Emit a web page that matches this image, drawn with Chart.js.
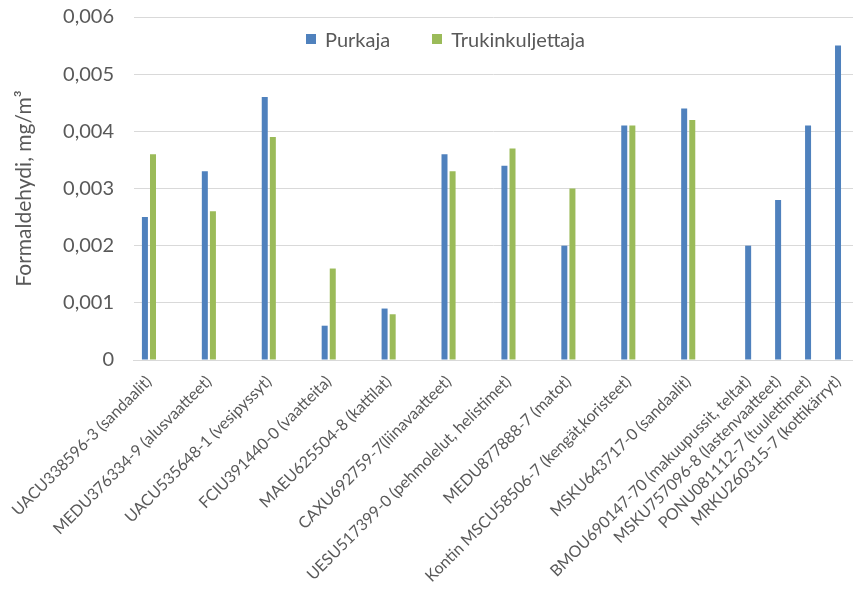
<!DOCTYPE html>
<html>
<head>
<meta charset="utf-8">
<script src="https://cdn.jsdelivr.net/npm/chart.js@4/dist/chart.umd.min.js"></script>
<style>
  body { margin: 0; background: #fff; }
  #wrap { position: relative; width: 853px; height: 590px; }
  #legend { position: absolute; top: 27px; left: 306px; display: flex; font-family: Lato, sans-serif; font-size: 20px; color: #595959; }
  #legend span.item { display: flex; align-items: center; margin-right: 42px; }
  #legend span.box { width: 10px; height: 10px; margin-right: 9px; display: inline-block; }
</style>
</head>
<body>
<div id="wrap">
  <canvas id="formChart"></canvas>
  <div id="legend"></div>
</div>
<script>
// containers measured
var containers = [
  'UACU338596-3 (sandaalit)',
  'MEDU376334-9 (alusvaatteet)',
  'UACU535648-1 (vesipyssyt)',
  'FCIU391440-0 (vaatteita)',
  'MAEU625504-8 (kattilat)',
  'CAXU692759-7(liinavaatteet)',
  'UESU517399-0 (pehmolelut, helistimet)',
  'MEDU877888-7 (matot)',
  'Kontin MSCU58506-7 (kengät,koristeet)',
  'MSKU643717-0 (sandaalit)',
  'BMOU690147-70 (makuupussit, teltat)',
  'MSKU757096-8 (lastenvaatteet)',
  'PONU081112-7 (tuulettimet)',
  'MRKU260315-7 (kottikärryt)'
];
var purkaja = [0.0025, 0.0033, 0.0046, 0.0006, 0.0009, 0.0036, 0.0034, 0.0020, 0.0041, 0.0044, 0.0020, 0.0028, 0.0041, 0.0055];
var trukki  = [0.0036, 0.0026, 0.0039, 0.0016, 0.0008, 0.0033, 0.0037, 0.0030, 0.0041, 0.0042, null, null, null, null];
var yTicks = [0, 0.001, 0.002, 0.003, 0.004, 0.005, 0.006];

var seriesNames = ['Purkaja', 'Trukinkuljettaja'];
var seriesColors = ['#4F81BD', '#9BBB59'];

// containers with both measurements get an empty slot after them
var labels = [], dataP = [], dataT = [];
for (var i = 0; i < containers.length; i++) {
  labels.push(containers[i]);
  dataP.push(purkaja[i]);
  dataT.push(trukki[i]);
  if (trukki[i] != null) {
    labels.push('');
    dataP.push(null);
    dataT.push(null);
  }
}

var legendEl = document.getElementById('legend');
for (var s = 0; s < seriesNames.length; s++) {
  legendEl.innerHTML += '<span class="item"><span class="box" style="background:' + seriesColors[s] + '"></span>' + seriesNames[s] + '</span>';
}

var ctx = document.getElementById('formChart').getContext('2d');
var chart = new Chart(ctx, {
  type: 'bar',
  data: {
    labels: labels,
    datasets: [{
      label: seriesNames[0],
      data: dataP,
      backgroundColor: seriesColors[0]
    }, {
      label: seriesNames[1],
      data: dataT,
      backgroundColor: seriesColors[1]
    }]
  },
  options: {
    responsive: true,
    maintainAspectRatio: false,
    animation: false,
    skipNull: true,
    categoryPercentage: 0.54,
    barPercentage: 0.75,
    maxBarThickness: 6,
    layout: { padding: 0 },
    plugins: {
      legend: { display: false },
      tooltip: { enabled: false }
    },
    scales: {
      x: {
        grid: { display: false, drawTicks: false },
        border: { color: '#d9d9d9', width: 1 },
        ticks: {
          autoSkip: false,
          minRotation: 45,
          maxRotation: 45,
          padding: 12,
          color: '#595959',
          font: { family: 'Lato', size: 16 }
        },
        afterFit: function(scale) {
          scale.height = 230;
          scale.paddingRight = 0;
        }
      },
      y: {
        min: 0,
        max: 0.006,
        grid: { color: '#d9d9d9', drawTicks: false },
        border: { display: false },
        afterBuildTicks: function(scale) {
          scale.ticks = yTicks.map(function(v) { return { value: v }; });
        },
        ticks: {
          padding: 20,
          color: '#595959',
          font: { family: 'Lato', size: 20 },
          callback: function(v) { return v === 0 ? '0' : v.toFixed(3).replace('.', ','); }
        },
        title: {
          display: true,
          text: 'Formaldehydi, mg/m³',
          color: '#595959',
          font: { family: 'Lato', size: 21 },
          padding: { top: 11, bottom: 0 }
        },
        afterFit: function(scale) {
          scale.width = 133;
          scale.paddingTop = 17;
        }
      }
    }
  }
});
</script>
</body>
</html>
